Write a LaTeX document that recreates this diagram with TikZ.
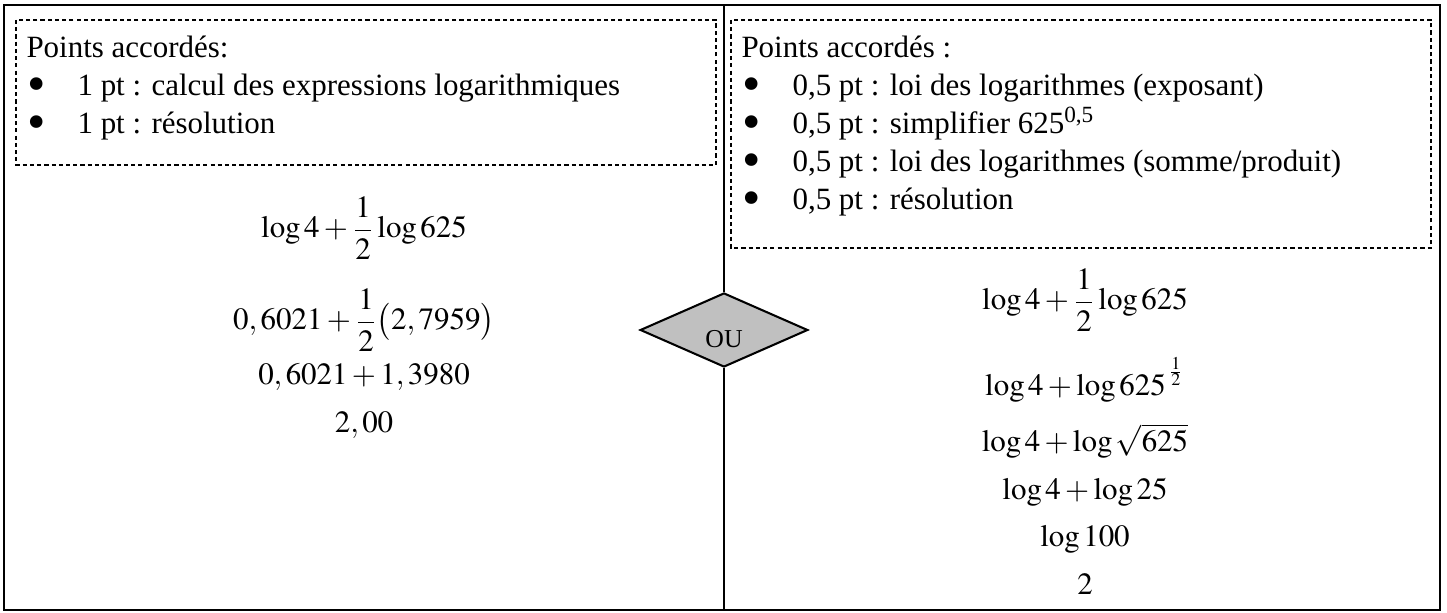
\documentclass[tikz,border=0pt]{standalone}
\usepackage{mathptmx}
\usepackage{graphicx}
\usepackage[no-math]{fontspec}
\setmainfont{Liberation Serif}
\usetikzlibrary{shapes.geometric}

\definecolor{ougris}{RGB}{192,192,192}
\newcommand{\puce}{\makebox[19.4pt][l]{\raisebox{-2.2pt}[0.8ex][0pt]{\scalebox{1.7}{\textbullet}}}}

\tikzset{
    cadre/.style={line width=0.8pt},
    bareme/.style={line width=0.4pt, dash pattern=on 1.6pt off 1.2pt},
    ligne/.style={anchor=base west, inner sep=0pt, font=\fontsize{12}{14}\selectfont},
    calcul/.style={anchor=base, inner sep=0pt, font=\fontsize{12}{14}\selectfont},
    choix/.style={draw, diamond, fill=ougris, line width=0.8pt, inner sep=0pt,
        minimum width=65pt, minimum height=28.7pt, font=\fontsize{10}{12}\selectfont}
}

\begin{document}
\begin{tikzpicture}[x=0.3876pt, y=-0.3876pt]
    \useasboundingbox (0,0) rectangle (1447,613);

    % cadre et separation
    \draw[cadre] (4,5) rectangle (1440,610);
    \coordinate (haut) at (724,5);
    \coordinate (bas) at (724,610);
    \node[choix] (ou) at (724,330) {\raisebox{-3.5pt}[\height][0pt]{OU}};
    \draw[cadre] (haut) -- (ou.north);
    \draw[cadre] (ou.south) -- (bas);

    % points accordes, colonne de gauche
    \draw[bareme] (16,20) rectangle (716,165);
    \node[ligne] (ltitre) at (26,58) {Points accordés:};
    \node[ligne] (lpt1) at (27,96) {\puce 1 pt : calcul des expressions logarithmiques};
    \node[ligne] (lpt2) at (27,134) {\puce 1 pt : résolution};

    % points accordes, colonne de droite
    \draw[bareme] (731,20) rectangle (1431,248);
    \node[ligne] (rtitre) at (741,58) {Points accordés :};
    \node[ligne] (rpt1) at (742,96) {\puce 0,5 pt : loi des logarithmes (exposant)};
    \node[ligne] (rpt2) at (742,134) {\puce 0,5 pt : simplifier 625\textsuperscript{0,5}};
    \node[ligne] (rpt3) at (742,172) {\puce 0,5 pt : loi des logarithmes (somme/produit)};
    \node[ligne] (rpt4) at (742,210) {\puce 0,5 pt : résolution};

    % calcul direct
    \node[calcul] (lcalc1) at (364,238) {$\displaystyle\log 4+\frac{1}{2}\log 625$};
    \node[calcul] (lcalc2) at (364,330) {$\displaystyle 0,6021+\frac{1}{2}\bigl(2,7959\bigr)$};
    \node[calcul] (lcalc3) at (364,385) {$0,6021+1,3980$};
    \node[calcul] (lcalc4) at (364,433) {$2,00$};

    % lois des logarithmes
    \node[calcul] (rcalc1) at (1085,310) {$\displaystyle\log 4+\frac{1}{2}\log 625$};
    \node[calcul] (rcalc2) at (1085,396) {$\log 4+\log 625^{\,\raisebox{3pt}{$\scriptscriptstyle\frac{1}{2}$}}$};
    \node[calcul] (rcalc3) at (1085,452) {$\log 4+\log\sqrt{625}$};
    \node[calcul] (rcalc4) at (1085,500) {$\log 4+\log 25$};
    \node[calcul] (rcalc5) at (1085,547) {$\log 100$};
    \node[calcul] (rcalc6) at (1085,595) {$2$};
\end{tikzpicture}
\end{document}
